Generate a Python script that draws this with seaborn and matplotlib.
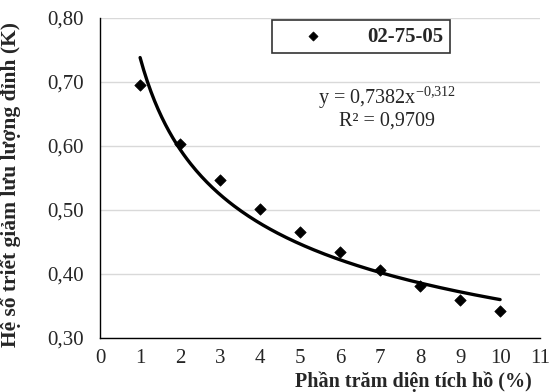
import numpy as np
import pandas as pd
import matplotlib
matplotlib.use("Agg")
import matplotlib.pyplot as plt
import seaborn as sns

# data
pct_area = [1, 2, 3, 4, 5, 6, 7, 8, 9, 10]
k_values = [0.695, 0.603, 0.547, 0.502, 0.465, 0.435, 0.406, 0.381, 0.360, 0.342]
series_name = "02-75-05"

# power trendline as printed on the chart
coef_a = 0.7382
coef_b = -0.312
r2 = 0.9709

x_ticks = list(range(0, 12))
y_ticks = [0.30, 0.40, 0.50, 0.60, 0.70, 0.80]
y_tick_labels = ["0,30", "0,40", "0,50", "0,60", "0,70", "0,80"]

sns.set_style("white")
plt.rcParams["font.family"] = ["Liberation Serif", "DejaVu Serif"]
plt.rcParams["mathtext.fontset"] = "custom"
plt.rcParams["mathtext.rm"] = "Liberation Serif"
plt.rcParams["axes.unicode_minus"] = False

df = pd.DataFrame({"x": pct_area, "k": k_values})
x_fit = np.linspace(min(pct_area), max(pct_area), 200)
fit_df = pd.DataFrame({"x": x_fit, "k": coef_a * x_fit ** coef_b})

fig = plt.figure(figsize=(5.5, 3.92), dpi=100)
ax = fig.add_axes([0.182, 0.138, 0.800, 0.816])

ax.grid(axis="y", color="#d9d9d9", linewidth=1)
ax.set_axisbelow(True)
sns.lineplot(data=fit_df, x="x", y="k", ax=ax, color="black", linewidth=2.4, legend=False)
sns.scatterplot(data=df, x="x", y="k", ax=ax, marker="D", color="black", s=34,
                edgecolor="black", label=series_name, zorder=3)

ax.set_xlim(0, 11)
ax.set_ylim(0.30, 0.80)
ax.set_xticks(x_ticks)
ax.set_xticklabels([str(t) for t in x_ticks])
ax.set_yticks(y_ticks)
ax.set_yticklabels(y_tick_labels)
ax.tick_params(axis="both", labelsize=15, length=5, width=1, direction="out", color="black")
ax.tick_params(axis="y", pad=7)
ax.tick_params(axis="x", pad=3)

for side in ["top", "right"]:
    ax.spines[side].set_visible(False)
for side in ["left", "bottom"]:
    ax.spines[side].set_color("black")
    ax.spines[side].set_linewidth(1)

ax.set_ylabel("Hệ số triết giảm lưu lượng đỉnh (K)", fontsize=15.5, fontweight="bold")
ax.yaxis.set_label_coords(-0.18, 0.48)
ax.set_xlabel("")
fig.text(0.751, 0.025, "Phần trăm diện tích hồ (%)", fontsize=14.5, fontweight="bold",
         ha="center", va="center")

eq_text = r"y = 0,7382x$^{\mathregular{-0{,}312}}$" + "\nR² = " + f"{r2}".replace(".", ",")
ax.text(0.652, 0.72, eq_text, transform=ax.transAxes, fontsize=14.5,
        ha="center", va="center", linespacing=1.05)

leg = ax.legend(loc="upper left", bbox_to_anchor=(0.39, 0.993), frameon=True, fancybox=False,
                edgecolor="black", prop={"weight": "bold", "size": 15}, markerscale=0.8,
                handletextpad=0.9, borderpad=0.3, handlelength=3.4, borderaxespad=0)
leg.get_frame().set_linewidth(1.2)

fig.savefig("out.png", dpi=100)
